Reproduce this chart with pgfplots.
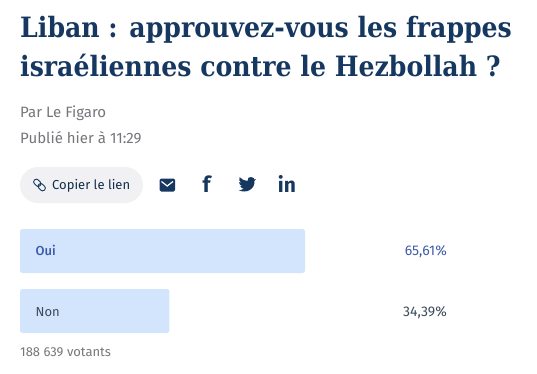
\documentclass[border=0pt]{standalone}
\usepackage{fontspec}
\usepackage{pgfplots}
\pgfplotsset{compat=1.18}
\setmainfont{Open Sans}
\newfontfamily\titlefont{DejaVu Serif}[BoldFont={DejaVu Serif Condensed Bold}]
\newfontfamily\uifont{Fira Sans}
\newfontfamily\uimed{Fira Sans Medium}
\definecolor{navy}{HTML}{163860}
\definecolor{barblue}{HTML}{D2E5FD}
\definecolor{ouiblue}{HTML}{3F5CA8}
\definecolor{nontext}{HTML}{3E4A5C}
\definecolor{graytext}{HTML}{75757B}
\definecolor{pill}{HTML}{F1F1F3}
\begin{document}
\begin{tikzpicture}[x=1pt,y=1pt]
\path[use as bounding box] (0,0) rectangle (537,373);
\begin{axis}[at={(0,0)},anchor=south west,scale only axis,width=537pt,height=373pt,
  xmin=-4.604,xmax=119.015,ymin=-4.183,ymax=2.033,y dir=reverse,axis lines=none,
  xbar,bar width=44pt,clip=false]
\addplot[draw=none,fill=barblue,rounded corners=2.5pt,bar shift=0pt] coordinates {(65.61,0) (34.39,1)};
\end{axis}
\begin{scope}[shift={(0,373)},y=-1pt]
\node[anchor=base west,inner sep=0,text=navy,font=\titlefont\bfseries\fontsize{28}{30}\selectfont] at (20,38) {Liban : approuvez-vous les frappes};
\node[anchor=base west,inner sep=0,text=navy,font=\titlefont\bfseries\fontsize{28}{30}\selectfont] at (20,76) {israéliennes contre le Hezbollah ?};
\node[anchor=base west,inner sep=0,text=graytext,font=\uifont\fontsize{15}{16}\selectfont] at (20,117) {Par Le Figaro};
\node[anchor=base west,inner sep=0,text=graytext,font=\uifont\fontsize{15}{16}\selectfont] at (20,143) {Publié hier à 11:29};
\fill[pill,rounded corners=18pt] (20,167) rectangle (143,203);
\begin{scope}[shift={(39.5,185)},rotate=-45,navy,line width=0.9pt]
\draw[rounded corners=2.2pt] (-0.8,-2.6) rectangle (7,2.6);
\draw[rounded corners=2.2pt] (-7,-2.6) rectangle (0.8,2.6);
\end{scope}
\node[anchor=base west,inner sep=0,text=navy!80!black,font=\uifont\fontsize{13}{14}\selectfont] at (52,189.5) {Copier le lien};
\fill[navy,rounded corners=1.5pt] (159.5,178.5) rectangle (175,191.5);
\draw[white,line width=1.2pt] (161.5,181.5) -- (167.2,186) -- (173,181.5);
\node[anchor=base,inner sep=0,text=navy,font=\uifont\bfseries\fontsize{22}{24}\selectfont] at (206.5,192) {f};
\begin{scope}[shift={(247.5,185)},scale=0.92,shift={(-248,-187)}]
\fill[navy] (255,179.5) .. controls (253,178) and (250.5,178) .. (249,179.2) .. controls (248,180.2) and (247.6,181.5) .. (248,182.6)
 .. controls (244.5,182.5) and (241.5,180.8) .. (239.5,178.5) .. controls (238.3,180.8) and (239,183.2) .. (241,184.6)
 .. controls (240,184.6) and (239.3,184.3) .. (238.8,184) .. controls (238.8,186) and (240.2,187.7) .. (242.2,188.2)
 .. controls (241.5,188.4) and (240.8,188.4) .. (240.2,188.3) .. controls (240.8,189.9) and (242.3,191) .. (244,191)
 .. controls (242.4,192.2) and (240.5,192.8) .. (238.5,192.6) .. controls (247,197) and (256.5,191) .. (255.5,182.5)
 .. controls (256.3,181.9) and (257,181.2) .. (257.5,180.4) .. controls (256.8,180.7) and (256,180.9) .. (255.2,181) -- cycle;
\end{scope}
\node[anchor=base,inner sep=0,text=navy,font=\uifont\bfseries\fontsize{21}{24}\selectfont] at (287,192) {in};
\node[anchor=base west,inner sep=0,text=ouiblue,font=\uimed\fontsize{13}{14}\selectfont] at (35.5,255) {Oui};
\node[anchor=base west,inner sep=0,text=nontext,font=\uifont\fontsize{13}{14}\selectfont] at (35.5,316) {Non};
\node[anchor=base east,inner sep=0,text=ouiblue,font=\uifont\fontsize{14}{14}\selectfont] at (447,255.5) {65,61\%};
\node[anchor=base east,inner sep=0,text=nontext,font=\uifont\fontsize{14}{14}\selectfont] at (447,316.5) {34,39\%};
\node[anchor=base west,inner sep=0,text=graytext,font=\uifont\fontsize{13}{14}\selectfont] at (20,356) {188 639 votants};
\end{scope}
\end{tikzpicture}
\end{document}
